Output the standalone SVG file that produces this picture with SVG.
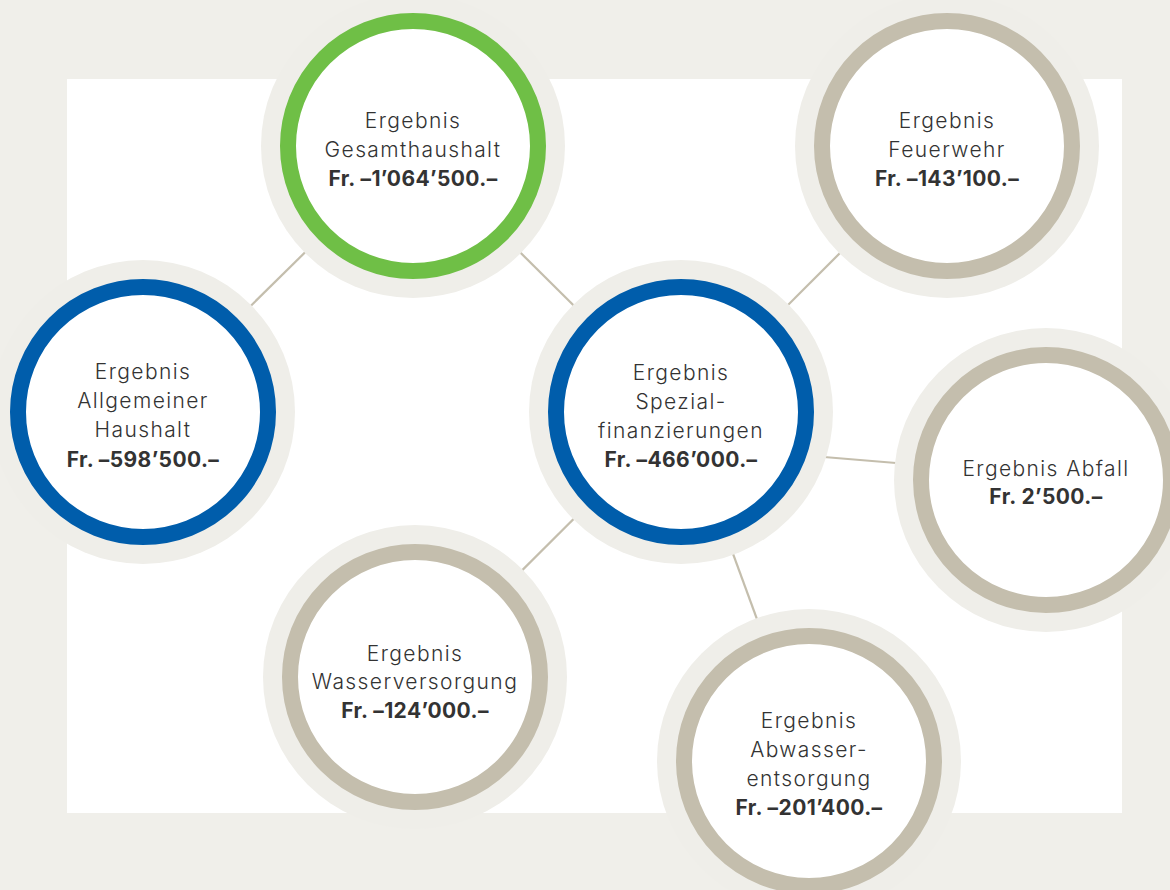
<svg xmlns="http://www.w3.org/2000/svg" width="1170" height="890" viewBox="0 0 1170 890">
<style>
.halo{fill:#efeee9}
.ring{fill:#fff;stroke-width:16}
.green{stroke:#6fbf46}
.blue{stroke:#005dab}
.tan{stroke:#c4bead}
.con{stroke:#c4bead;stroke-width:2.2;fill:none}
text{font-family:Inter,"Open Sans","Liberation Sans",sans-serif;font-size:21px;fill:#333;text-anchor:middle}
.l{font-weight:300;letter-spacing:1.4px}
.b{font-weight:650;letter-spacing:0.4px}
</style>
<rect x="0" y="0" width="1170" height="890" fill="#f0efea"/>
<rect x="67" y="79" width="1055" height="734" fill="#fff"/>
<g id="connectors">
<line class="con" x1="413" y1="146" x2="143" y2="412"/>
<line class="con" x1="413" y1="146" x2="681" y2="412"/>
<line class="con" x1="947" y1="146" x2="681" y2="412"/>
<line class="con" x1="800" y1="455" x2="920" y2="465"/>
<line class="con" x1="681" y1="412" x2="415" y2="677"/>
<line class="con" x1="681" y1="412" x2="809" y2="761"/>
</g>
<g id="gesamthaushalt">
<circle class="halo" cx="413" cy="146" r="152"/>
<circle class="ring green" cx="413" cy="146" r="125"/>
<text x="413" y="128" class="l">Ergebnis</text>
<text x="413" y="157" class="l">Gesamthaushalt</text>
<text x="413" y="186" class="b">Fr. –1’064’500.–</text>
</g>
<g id="feuerwehr">
<circle class="halo" cx="947" cy="146" r="152"/>
<circle class="ring tan" cx="947" cy="146" r="125"/>
<text x="947" y="128" class="l">Ergebnis</text>
<text x="947" y="157" class="l">Feuerwehr</text>
<text x="947" y="186" class="b">Fr. –143’100.–</text>
</g>
<g id="allgemeiner">
<circle class="halo" cx="143" cy="412" r="152"/>
<circle class="ring blue" cx="143" cy="412" r="125"/>
<text x="143" y="379" class="l">Ergebnis</text>
<text x="143" y="408" class="l">Allgemeiner</text>
<text x="143" y="437" class="l">Haushalt</text>
<text x="143" y="467" class="b">Fr. –598’500.–</text>
</g>
<g id="spezial">
<circle class="halo" cx="681" cy="412" r="152"/>
<circle class="ring blue" cx="681" cy="412" r="125"/>
<text x="681" y="380" class="l">Ergebnis</text>
<text x="681" y="409" class="l">Spezial-</text>
<text x="681" y="438" class="l">finanzierungen</text>
<text x="681" y="467" class="b">Fr. –466’000.–</text>
</g>
<g id="abfall">
<circle class="halo" cx="1046" cy="480" r="152"/>
<circle class="ring tan" cx="1046" cy="480" r="125"/>
<text x="1046" y="476" class="l">Ergebnis Abfall</text>
<text x="1046" y="504" class="b">Fr. 2’500.–</text>
</g>
<g id="wasser">
<circle class="halo" cx="415" cy="677" r="152"/>
<circle class="ring tan" cx="415" cy="677" r="125"/>
<text x="415" y="661" class="l">Ergebnis</text>
<text x="415" y="689" class="l">Wasserversorgung</text>
<text x="415" y="718" class="b">Fr. –124’000.–</text>
</g>
<g id="abwasser">
<circle class="halo" cx="809" cy="761" r="152"/>
<circle class="ring tan" cx="809" cy="761" r="125"/>
<text x="809" y="728" class="l">Ergebnis</text>
<text x="809" y="757" class="l">Abwasser-</text>
<text x="809" y="786" class="l">entsorgung</text>
<text x="809" y="815" class="b">Fr. –201’400.–</text>
</g>
</svg>
